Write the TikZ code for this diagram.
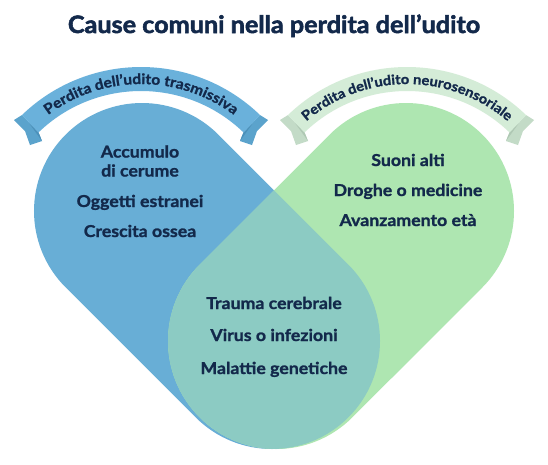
\documentclass[tikz,border=0pt]{standalone}
\usepackage{fontspec}
\setmainfont{Lato}[FakeStretch=1.08, BoldFeatures={FakeBold=1.3}]
\newfontfamily\titlefam{Lato}[FakeStretch=1.05, BoldFeatures={FakeBold=2.2}]
\usetikzlibrary{decorations.text}
\definecolor{navy}{HTML}{13294B}
\definecolor{lobeblue}{HTML}{68AED6}
\definecolor{lobegreen}{HTML}{AEE6B1}
\definecolor{lobeteal}{HTML}{8CCBC3}
\definecolor{ribblue}{HTML}{6AB1DB}
\definecolor{ribbluetail}{HTML}{5BA3CC}
\definecolor{ribbluefold}{HTML}{4C91BA}
\definecolor{ribgreen}{HTML}{D4ECD7}
\definecolor{ribgreentail}{HTML}{C3DBC7}
\definecolor{ribgreenfold}{HTML}{AFC8B4}
\newcommand\lobefont{\fontsize{16.4}{19}\selectfont\bfseries}
\newcommand\titlefont{\titlefam\fontsize{24}{28}\selectfont\bfseries}
\newcommand\ribfontL{\fontsize{14.4}{16}\selectfont\bfseries\color{navy}}
\newcommand\ribfontR{\fontsize{13.6}{16}\selectfont\bfseries\color{navy}}
\def\leftcap{(218.37,-134.63) -- (348.37,-264.63) arc[start angle=45,end angle=-135,radius=108] -- (65.63,-287.37) arc[start angle=-135,end angle=-315,radius=108] -- cycle}
\def\rightcap{(329.63,-134.63) -- (199.63,-264.63) arc[start angle=135,end angle=315,radius=108] -- (482.37,-287.37) arc[start angle=-45,end angle=135,radius=108] -- cycle}
\newcommand\ribtail[2]{%
  \fill[#1] (-127,-120) -- (-116,-131) -- (-111,-145) -- (-99,-141) -- (-102.5,-132.4) -- (-119.1,-115.1) -- cycle;
  \fill[#2] (-102.5,-132.4) -- (-112,-123) -- (-99,-141) -- cycle;}
\newcommand\ribbon[4]{%
  \begin{scope}[xshift=#1pt]\ribtail{#3}{#4}\end{scope}
  \begin{scope}[xshift=#1pt,xscale=-1]\ribtail{#3}{#4}\end{scope}
  \fill[#2] ([shift={(#1,-238.5)}]134:171.5) arc[start angle=134,end angle=46,radius=171.5]
    -- ([shift={(#1,-238.5)}]46:147.5) arc[start angle=46,end angle=134,radius=147.5] -- cycle;}
\tikzset{
  lobe/.style={text=navy, font=\lobefont, align=center, inner sep=0pt},
  heading/.style={text=navy, font=\titlefont, anchor=base, inner sep=0pt},
  ribtext/.style={decorate, decoration={text along path, text align=center, text={#1}}}
}
\begin{document}
\begin{tikzpicture}[x=1pt,y=1pt]
\useasboundingbox (0,0) rectangle (548,-464);
\fill[white] (0,0) rectangle (548,-464);
% title
\node[heading] (title) at (274,-33) {Cause comuni nella perdita dell’udito};
% lobes
\fill[lobeblue] \leftcap;
\fill[lobegreen] \rightcap;
\begin{scope}
  \clip \leftcap;
  \fill[lobeteal] \rightcap;
\end{scope}
% ribbons
\ribbon{141}{ribblue}{ribbluetail}{ribbluefold}
\ribbon{407}{ribgreen}{ribgreentail}{ribgreenfold}
\path[ribtext={|\ribfontL|Perdita dell’udito trasmissiva}]
  ([shift={(141,-238.5)}]134:154.5) arc[start angle=134,end angle=46,radius=154.5];
\path[ribtext={|\ribfontR|Perdita dell’udito neurosensoriale}]
  ([shift={(407,-238.5)}]134:154.5) arc[start angle=134,end angle=46,radius=154.5];
% texts
\node[lobe] (acc) at (140,-161) {Accumulo\\di cerume};
\node[lobe, anchor=base] (ogg) at (140,-207) {Oggetti estranei};
\node[lobe, anchor=base] (cre) at (140,-237) {Crescita ossea};
\node[lobe, anchor=base] (suo) at (408,-166) {Suoni alti};
\node[lobe, anchor=base] (dro) at (408,-196) {Droghe o medicine};
\node[lobe, anchor=base] (ava) at (408,-226) {Avanzamento età};
\node[lobe, anchor=base] (tra) at (274,-309) {Trauma cerebrale};
\node[lobe, anchor=base] (vir) at (274,-341) {Virus o infezioni};
\node[lobe, anchor=base] (mal) at (274,-374) {Malattie genetiche};
\end{tikzpicture}
\end{document}
